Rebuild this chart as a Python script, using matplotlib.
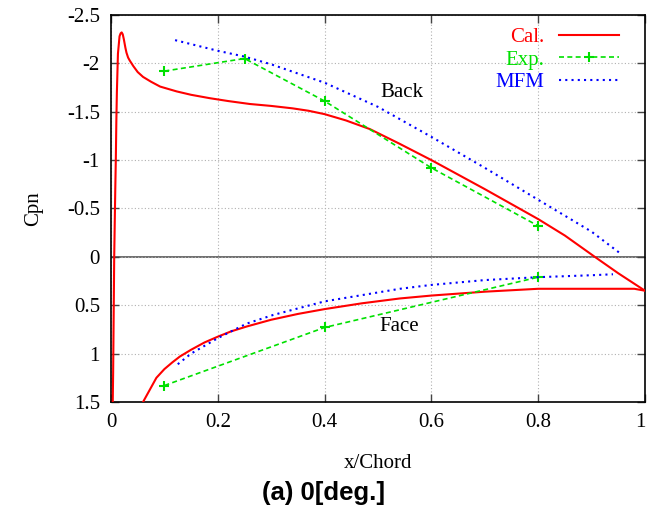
import numpy as np
import matplotlib
matplotlib.use("Agg")
import matplotlib.pyplot as plt
import matplotlib.transforms as mtransforms

# Cal. (red): back side then face side
cal_back_x = [0.002, 0.004, 0.006, 0.008, 0.009, 0.010, 0.011, 0.013, 0.016, 0.018, 0.020,
              0.022, 0.024, 0.027, 0.029, 0.032, 0.035, 0.042, 0.050, 0.060, 0.075, 0.092,
              0.123, 0.150, 0.185, 0.220, 0.260, 0.300, 0.340, 0.370, 0.400, 0.440, 0.485,
              0.540, 0.600, 0.700, 0.800, 0.850, 0.906, 0.950, 1.000]
cal_back_y = [2.00, 1.20, 0.00, -0.70, -1.00, -1.40, -1.70, -2.10, -2.28, -2.31, -2.32,
              -2.30, -2.25, -2.16, -2.11, -2.06, -2.03, -1.97, -1.91, -1.86, -1.81, -1.76,
              -1.71, -1.675, -1.64, -1.61, -1.58, -1.56, -1.535, -1.51, -1.475, -1.41, -1.32,
              -1.17, -1.00, -0.70, -0.39, -0.22, 0.00, 0.17, 0.35]
cal_face_x = [0.045, 0.060, 0.070, 0.085, 0.100, 0.115, 0.129, 0.150, 0.175, 0.200, 0.225,
              0.254, 0.300, 0.350, 0.400, 0.470, 0.541, 0.600, 0.700, 0.800, 0.900, 0.950,
              0.980, 1.000]
cal_face_y = [1.75, 1.50, 1.40, 1.25, 1.16, 1.09, 1.03, 0.96, 0.885, 0.825, 0.77,
              0.72, 0.65, 0.59, 0.54, 0.48, 0.43, 0.40, 0.36, 0.33, 0.33, 0.33,
              0.33, 0.35]

# Exp. (green)
exp_back_x = [0.1, 0.25, 0.4, 0.6, 0.8]
exp_back_y = [-1.92, -2.05, -1.61, -0.92, -0.32]
exp_face_x = [0.1, 0.4, 0.8]
exp_face_y = [1.33, 0.73, 0.21]

# MFM (blue)
mfm_back_x = [0.12, 0.20, 0.25, 0.30, 0.40, 0.50, 0.60, 0.70, 0.80, 0.90, 0.955]
mfm_back_y = [-2.24, -2.13, -2.07, -1.99, -1.80, -1.55, -1.24, -0.92, -0.59, -0.26, -0.03]
mfm_face_x = [0.125, 0.15, 0.20, 0.254, 0.304, 0.40, 0.541, 0.60, 0.70, 0.80, 0.90, 0.94]
mfm_face_y = [1.11, 1.00, 0.84, 0.69, 0.60, 0.46, 0.33, 0.29, 0.24, 0.21, 0.19, 0.18]

xticks = [0, 0.2, 0.4, 0.6, 0.8, 1]
xticklabels = ["0", "0.2", "0.4", "0.6", "0.8", "1"]
yticks = [-2.5, -2, -1.5, -1, -0.5, 0, 0.5, 1, 1.5]
yticklabels = ["-2.5", "-2", "-1.5", "-1", "-0.5", "0", "0.5", "1", "1.5"]

serif = "Liberation Serif"

fig = plt.figure(figsize=(6.48, 5.08), dpi=100)
ax = fig.add_axes([0.1713, 0.2087, 0.8241, 0.7618])

ax.grid(True, color="#b0b0b0", linestyle=(0, (1, 2)), linewidth=0.8)
ax.axhline(0, color="#555555", linewidth=1.2, zorder=1)

red, green, blue = "#ff0000", "#00e000", "#0000ff"
ax.plot(cal_back_x, cal_back_y, color=red, lw=1.5, label="Cal.", zorder=3)
ax.plot(cal_face_x, cal_face_y, color=red, lw=1.5, zorder=3)
ax.plot(exp_back_x, exp_back_y, color=green, lw=1.2, ls=(0, (3, 2)), marker="+",
        ms=7, mew=1.5, label="Exp.", zorder=3)
ax.plot(exp_face_x, exp_face_y, color=green, lw=1.2, ls=(0, (3, 2)), marker="+",
        ms=7, mew=1.5, zorder=3)
ax.plot(mfm_back_x, mfm_back_y, color=blue, lw=1.5, ls=(0, (1, 2)), label="MFM", zorder=3)
ax.plot(mfm_face_x, mfm_face_y, color=blue, lw=1.5, ls=(0, (1, 2)), zorder=3)

ax.set_xlim(0, 1)
ax.set_ylim(1.5, -2.5)
ax.set_xticks(xticks)
ax.set_xticklabels(xticklabels, fontfamily=serif, fontsize=15)
ax.set_yticks(yticks)
ax.set_yticklabels(yticklabels, fontfamily=serif, fontsize=15)
ax.tick_params(direction="in", length=6, width=1, top=True, right=True, pad=8,
               color="#444444")
for s in ax.spines.values():
    s.set_linewidth(1.2)

# keep the last x tick label inside the figure
last = ax.get_xticklabels()[-1]
last.set_transform(last.get_transform() +
                   mtransforms.ScaledTranslation(-3 / 72, 0, fig.dpi_scale_trans))

ax.set_xlabel("x/Chord", fontfamily=serif, fontsize=15, labelpad=16)
ax.set_ylabel("Cpn", fontfamily=serif, fontsize=15, labelpad=17)

ax.text(0.545, -1.7, "Back", fontfamily=serif, fontsize=15, ha="center", va="center")
ax.text(0.54, 0.72, "Face", fontfamily=serif, fontsize=15, ha="center", va="center")

leg = ax.legend(loc="upper right", frameon=False, markerfirst=False,
                prop={"family": serif, "size": 15}, handlelength=2.9,
                labelspacing=0.15, borderaxespad=0.2, handletextpad=0.7,
                bbox_to_anchor=(0.975, 1.0))
for t, c in zip(leg.get_texts(), [red, green, blue]):
    t.set_color(c)

fig.text(0.5, 0.005, "(a) 0[deg.]", fontfamily="Liberation Sans", fontweight="bold",
         fontsize=18.5, ha="center", va="bottom")

fig.savefig("out.png", dpi=100)
